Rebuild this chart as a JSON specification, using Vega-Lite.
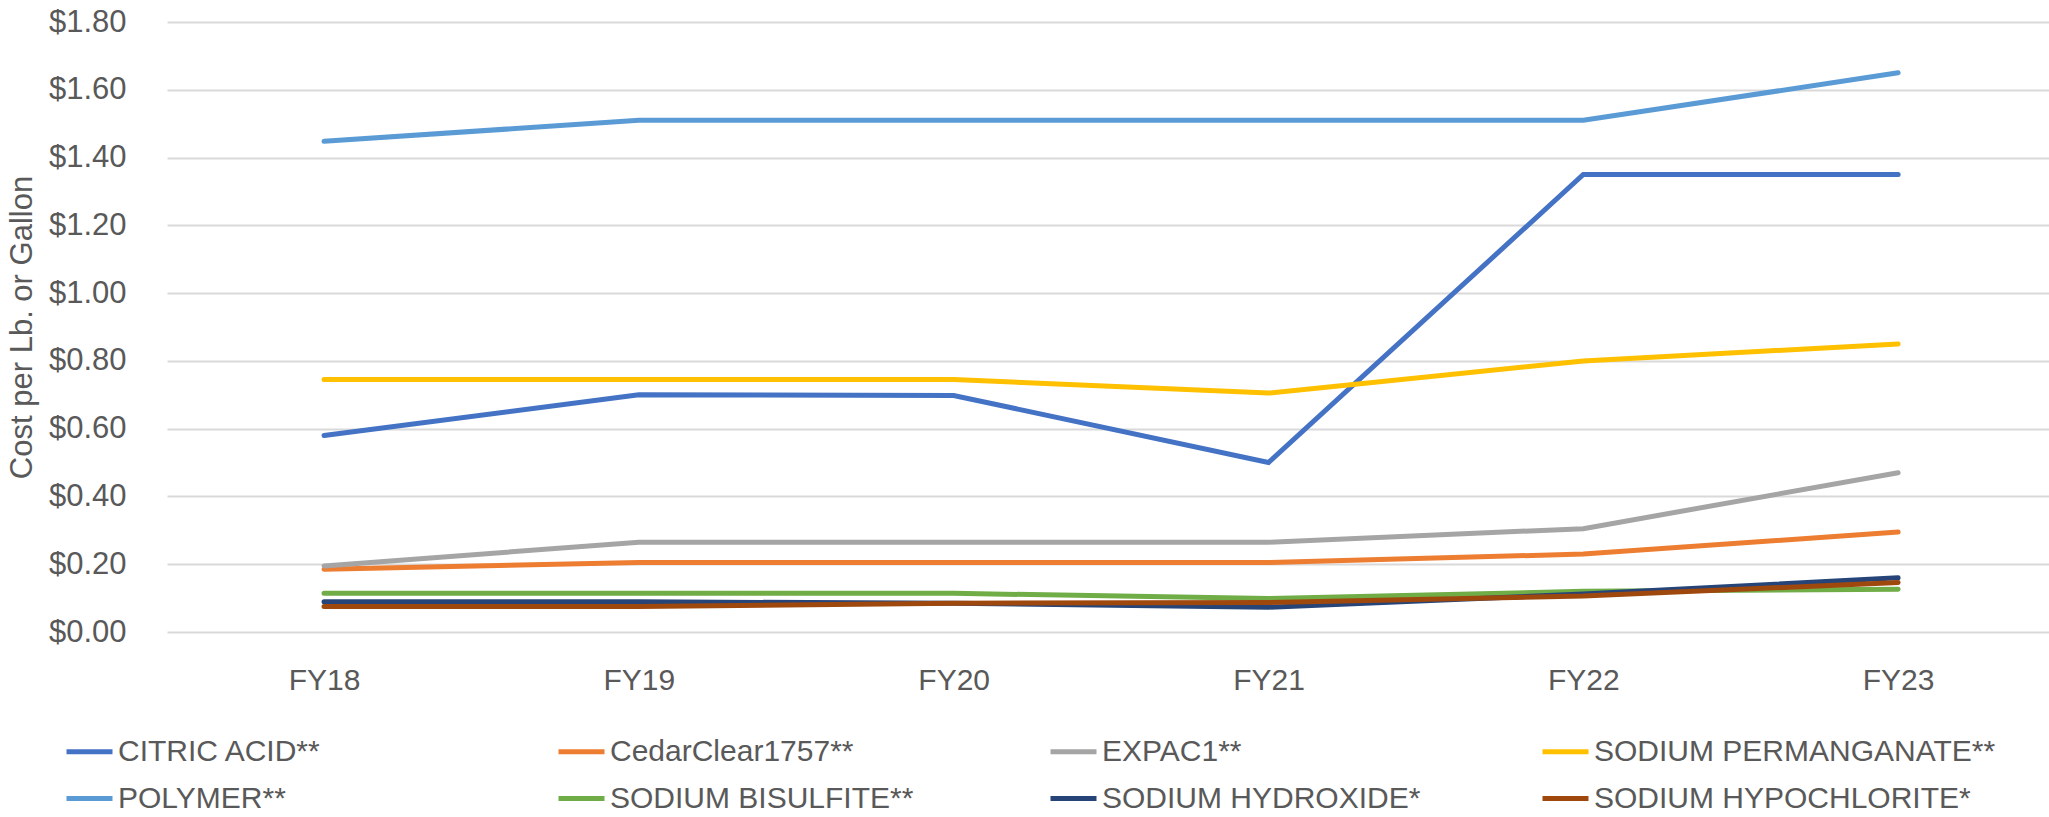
{
  "$schema": "https://vega.github.io/schema/vega-lite/v6.json",
  "autosize": {"type": "none"},
  "padding": {"left": 167, "top": 22, "right": 0, "bottom": 185},
  "width": 1882,
  "height": 610,
  "background": "white",
  "config": {
    "view": {"stroke": null},
    "font": "Liberation Sans"
  },
  "data": {
    "values": [
      {"chemical": "CITRIC ACID**", "year": "FY18", "cost": 0.58},
      {"chemical": "CITRIC ACID**", "year": "FY19", "cost": 0.70},
      {"chemical": "CITRIC ACID**", "year": "FY20", "cost": 0.698},
      {"chemical": "CITRIC ACID**", "year": "FY21", "cost": 0.50},
      {"chemical": "CITRIC ACID**", "year": "FY22", "cost": 1.35},
      {"chemical": "CITRIC ACID**", "year": "FY23", "cost": 1.35},
      {"chemical": "CedarClear1757**", "year": "FY18", "cost": 0.185},
      {"chemical": "CedarClear1757**", "year": "FY19", "cost": 0.205},
      {"chemical": "CedarClear1757**", "year": "FY20", "cost": 0.205},
      {"chemical": "CedarClear1757**", "year": "FY21", "cost": 0.205},
      {"chemical": "CedarClear1757**", "year": "FY22", "cost": 0.23},
      {"chemical": "CedarClear1757**", "year": "FY23", "cost": 0.295},
      {"chemical": "EXPAC1**", "year": "FY18", "cost": 0.195},
      {"chemical": "EXPAC1**", "year": "FY19", "cost": 0.265},
      {"chemical": "EXPAC1**", "year": "FY20", "cost": 0.265},
      {"chemical": "EXPAC1**", "year": "FY21", "cost": 0.265},
      {"chemical": "EXPAC1**", "year": "FY22", "cost": 0.305},
      {"chemical": "EXPAC1**", "year": "FY23", "cost": 0.47},
      {"chemical": "SODIUM PERMANGANATE**", "year": "FY18", "cost": 0.745},
      {"chemical": "SODIUM PERMANGANATE**", "year": "FY19", "cost": 0.745},
      {"chemical": "SODIUM PERMANGANATE**", "year": "FY20", "cost": 0.745},
      {"chemical": "SODIUM PERMANGANATE**", "year": "FY21", "cost": 0.705},
      {"chemical": "SODIUM PERMANGANATE**", "year": "FY22", "cost": 0.80},
      {"chemical": "SODIUM PERMANGANATE**", "year": "FY23", "cost": 0.85},
      {"chemical": "POLYMER**", "year": "FY18", "cost": 1.448},
      {"chemical": "POLYMER**", "year": "FY19", "cost": 1.51},
      {"chemical": "POLYMER**", "year": "FY20", "cost": 1.51},
      {"chemical": "POLYMER**", "year": "FY21", "cost": 1.51},
      {"chemical": "POLYMER**", "year": "FY22", "cost": 1.51},
      {"chemical": "POLYMER**", "year": "FY23", "cost": 1.65},
      {"chemical": "SODIUM BISULFITE**", "year": "FY18", "cost": 0.114},
      {"chemical": "SODIUM BISULFITE**", "year": "FY19", "cost": 0.114},
      {"chemical": "SODIUM BISULFITE**", "year": "FY20", "cost": 0.114},
      {"chemical": "SODIUM BISULFITE**", "year": "FY21", "cost": 0.099},
      {"chemical": "SODIUM BISULFITE**", "year": "FY22", "cost": 0.12},
      {"chemical": "SODIUM BISULFITE**", "year": "FY23", "cost": 0.126},
      {"chemical": "SODIUM HYDROXIDE*", "year": "FY18", "cost": 0.089},
      {"chemical": "SODIUM HYDROXIDE*", "year": "FY19", "cost": 0.089},
      {"chemical": "SODIUM HYDROXIDE*", "year": "FY20", "cost": 0.085},
      {"chemical": "SODIUM HYDROXIDE*", "year": "FY21", "cost": 0.073},
      {"chemical": "SODIUM HYDROXIDE*", "year": "FY22", "cost": 0.112},
      {"chemical": "SODIUM HYDROXIDE*", "year": "FY23", "cost": 0.16},
      {"chemical": "SODIUM HYPOCHLORITE*", "year": "FY18", "cost": 0.075},
      {"chemical": "SODIUM HYPOCHLORITE*", "year": "FY19", "cost": 0.075},
      {"chemical": "SODIUM HYPOCHLORITE*", "year": "FY20", "cost": 0.085},
      {"chemical": "SODIUM HYPOCHLORITE*", "year": "FY21", "cost": 0.087},
      {"chemical": "SODIUM HYPOCHLORITE*", "year": "FY22", "cost": 0.106},
      {"chemical": "SODIUM HYPOCHLORITE*", "year": "FY23", "cost": 0.146}
    ]
  },
  "mark": {"type": "line", "strokeWidth": 5, "strokeCap": "round", "strokeJoin": "miter"},
  "encoding": {
    "x": {
      "field": "year",
      "type": "nominal",
      "sort": null,
      "scale": {"type": "point", "padding": 0.489, "align": 0.51},
      "axis": {
        "title": null,
        "labelAngle": 0,
        "labelFontSize": 30,
        "labelColor": "#595959",
        "labelPadding": 33,
        "domain": false,
        "ticks": false,
        "grid": false
      }
    },
    "y": {
      "field": "cost",
      "type": "quantitative",
      "scale": {"domain": [0, 1.8], "nice": false, "zero": true},
      "axis": {
        "title": "Cost per Lb. or Gallon",
        "titleFontSize": 31,
        "titleFontWeight": "normal",
        "titleColor": "#595959",
        "titleAngle": -90,
        "titleAlign": "center",
        "titleBaseline": "alphabetic",
        "titleX": -136,
        "titleY": 305,
        "values": [0, 0.2, 0.4, 0.6, 0.8, 1.0, 1.2, 1.4, 1.6, 1.8],
        "format": "$.2f",
        "labelFontSize": 31,
        "labelColor": "#595959",
        "labelPadding": 41,
        "ticks": false,
        "tickSize": 0,
        "domain": false,
        "grid": true,
        "gridColor": "#D9D9D9",
        "gridWidth": 2
      }
    },
    "color": {
      "field": "chemical",
      "type": "nominal",
      "scale": {
        "domain": ["CITRIC ACID**", "CedarClear1757**", "EXPAC1**", "SODIUM PERMANGANATE**", "POLYMER**", "SODIUM BISULFITE**", "SODIUM HYDROXIDE*", "SODIUM HYPOCHLORITE*"],
        "range": ["#4472C4", "#ED7D31", "#A5A5A5", "#FFC000", "#5B9BD5", "#70AD47", "#264478", "#9E480E"]
      },
      "legend": {
        "title": null,
        "orient": "none",
        "legendX": -103,
        "legendY": 704,
        "direction": "horizontal",
        "columns": 4,
        "gridAlign": "all",
        "columnPadding": 28,
        "rowPadding": 6,
        "padding": 0,
        "symbolType": "stroke",
        "symbolSize": 2116,
        "symbolStrokeWidth": 5,
        "symbolOffset": 0,
        "labelOffset": 3,
        "labelFontSize": 30,
        "labelColor": "#595959",
        "labelLimit": 0
      }
    }
  }
}
